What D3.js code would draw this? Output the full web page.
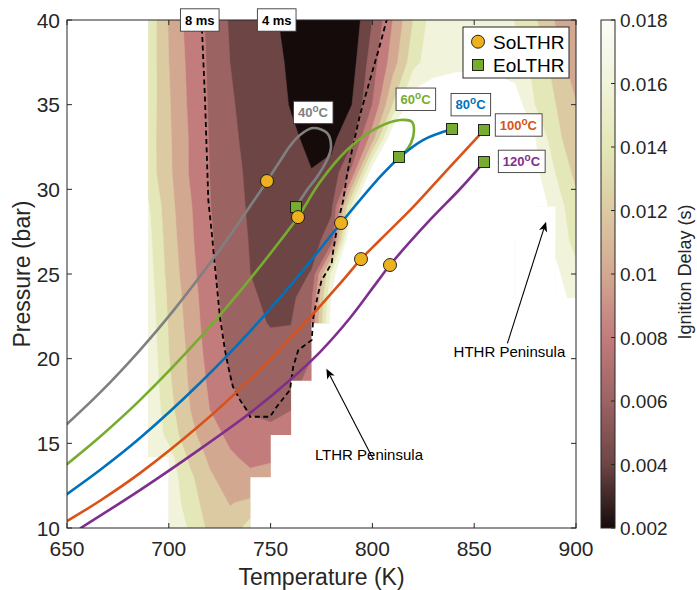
<!DOCTYPE html>
<html>
<head>
<meta charset="utf-8">
<script src="https://cdn.jsdelivr.net/npm/d3@7"></script>
<style>
  body { margin: 0; background: #fff; }
  text { font-family: "Liberation Sans", Arial, Helvetica, sans-serif; }
</style>
</head>
<body>
<svg id="chart" width="697" height="590"></svg>
<script>
// ---- Ignition delay map (ms) on a temperature / pressure grid; null = no data ----
const temperatureK = [650,660,670,680,690,700,710,720,730,740,750,760,770,780,790,800,810,820,830,840,850,860,870,880,890,900];
const pressureBar  = [40,37.5,35,33,31,29,27,25,23.6,22.1,20.4,18.7,17,15.5,14.2,13,11.5,10];
const _ = null;
const delayMs = [
  [_,_,_,_,15.4,11.8,9.2,7.6,5.8,5.1,4.3,3.5,2.9,2.5,2.6,6.0,10.0,14.0,17.0,17.4,17.6,17.3,15.9,14.2,11.8,10.3],
  [_,_,_,_,15.3,12.0,9.5,7.7,6.0,5.3,4.6,3.7,3.1,2.7,3.2,7.0,11.0,15.2,17.4,17.6,17.7,17.6,16.8,15.6,13.0,10.8],
  [_,_,_,_,15.2,12.2,9.7,7.8,6.2,5.4,4.7,3.9,3.2,3.0,4.0,8.0,14.0,19.5,19.0,19.2,19.2,19.0,19.2,15.9,14.0,12.1],
  [_,_,_,_,15.0,12.3,9.9,7.9,6.3,5.6,5.0,4.3,3.6,3.5,5.5,11.0,20,24,25,25,25,24,21,18.0,14.6,12.6],
  [_,_,_,_,15.0,12.4,9.9,8.0,6.5,5.7,5.1,4.6,4.05,4.6,8.5,19.5,25,26,26,26,26,25,22,18.5,15.9,13.4],
  [_,_,_,_,16.2,12.7,10.3,8.1,6.6,5.8,5.3,4.9,4.6,5.6,16.5,26,27,27,27,27,26,24,22,19.5,17.0,14.6],
  [_,_,_,_,16.6,13.0,10.5,8.3,6.8,5.9,5.4,5.05,5.1,7.0,22,27,27,27,27,27,26,25,23,_,17.5,15.2],
  [_,_,_,_,16.9,13.3,10.8,8.5,7.0,6.0,5.5,5.3,6.1,16.5,24,25,25,25,25,25,25,24,23,_,18.4,16.6],
  [_,_,_,_,17.1,13.6,11.1,8.7,7.2,6.2,5.7,5.5,7.5,18.2,24,24,24,24,24,24,24,24,23,_,19.2,17.0],
  [_,_,_,_,17.3,13.8,11.3,8.9,7.4,6.4,5.9,5.95,8.0,19.0,_,_,_,_,_,_,_,_,_,_,_,_],
  [_,_,_,_,17.5,14.0,11.6,9.2,7.7,6.9,6.5,6.6,7.8,_,_,_,_,_,_,_,_,_,_,_,_,_],
  [_,_,_,_,17.7,14.3,11.8,9.6,8.0,7.2,6.9,7.3,8.6,_,_,_,_,_,_,_,_,_,_,_,_,_],
  [_,_,_,_,17.9,14.7,12.1,10.0,8.6,7.8,7.5,7.9,_,_,_,_,_,_,_,_,_,_,_,_,_,_],
  [_,_,_,_,17.9,15.3,12.6,10.9,9.5,8.7,8.5,9.6,_,_,_,_,_,_,_,_,_,_,_,_,_,_],
  [_,_,_,_,17.9,16.8,13.6,11.6,10.3,9.5,9.6,_,_,_,_,_,_,_,_,_,_,_,_,_,_,_],
  [_,_,_,_,_,17.2,14.5,12.3,11.0,10.4,10.9,_,_,_,_,_,_,_,_,_,_,_,_,_,_,_],
  [_,_,_,_,_,17.4,15.0,13.0,11.9,12.3,_,_,_,_,_,_,_,_,_,_,_,_,_,_,_,_],
  [_,_,_,_,_,17.6,15.8,13.5,12.6,15.0,_,_,_,_,_,_,_,_,_,_,_,_,_,_,_,_]
];

// contour levels (ms) and colormap entries at each level
const levelsMs   = [2,4,6,8,10,12,14,16,18];
const cmapColors = ["#150b0b","#6d4545","#9c6363","#c27c7c","#d3a891","#dccaa2","#e4e7b7","#f1f3da","#fcfcf7"];
const cbarLabels = ["0.002","0.004","0.006","0.008","0.01","0.012","0.014","0.016","0.018"];

// compression paths (T in K, P in bar) for each intake temperature
const path40  = [[650,16.14],[666.2,17.99],[685.85,20.51],[702.06,22.81],[721.71,25.88],[734.97,28.13],[742.34,29.43],[748.23,30.49],[754.62,31.67],[759.53,32.56],[764.44,33.21],[770.83,33.62],[777.7,33.33],[779.67,32.5],[777.7,31.73],[772.79,30.73],[767.88,29.96],[762.48,28.95]];
const path60  = [[650,13.77],[666.21,15.39],[685.85,17.55],[715.32,21.24],[739.88,24.7],[754.62,26.95],[763.46,28.36],[774.26,30.43],[787.52,32.32],[800.29,33.5],[813.56,34.09],[819.45,33.98],[820.43,33.5],[818.96,32.73],[815.52,32.14],[813.06,31.91]];
const path80  = [[650,12.0],[666.21,13.42],[685.85,15.31],[715.32,18.56],[739.88,21.61],[764.44,25.0],[784.58,28.01],[803.73,30.73],[813.56,31.91],[824.85,32.91],[839.1,33.56]];
const path100 = [[650,10.41],[666.21,11.61],[685.85,13.24],[715.32,16.08],[739.88,18.78],[764.44,21.8],[785.56,24.64],[794.4,25.88],[803.73,27.01],[819.94,28.95],[836.64,31.14],[854.81,33.5]];
const path120 = [[656.73,10.0],[685.85,12.24],[715.32,14.66],[739.88,16.79],[759.53,18.74],[774.26,20.39],[789.0,22.4],[802.26,24.52],[808.64,25.53],[828.29,28.19],[843.03,30.02],[854.81,31.61]];
const pathLabels = ["40","60","80","100","120"];
const pathColors = ["#808080","#77ac30","#0072bd","#d95319","#7e2f8e"];
// label anchor (T, P) for each path
const pathLabelAt = [[770.8,34.54],[821.2,35.32],[848.2,35.0],[871.7,33.8],[873.2,31.65]];

// start / end of low-temperature heat release on each path
const soLTHR = [[748.23,30.49],[763.46,28.36],[784.58,28.01],[794.4,25.88],[808.64,25.53]];
const eoLTHR = [[762.48,28.95],[813.06,31.91],[839.1,33.56],[854.81,33.5],[854.81,31.61]];

// dashed boundary curve
const dashedBoundary = [[716.1,40],[717.8,35.27],[719.4,29.37],[721.1,27.42],[722.7,25.41],[725.1,22.47],[727.6,20.5],[729.2,19.52],[731.5,18.34],[735,17.55],[738.3,16.96],[739.9,16.57],[749.7,16.57],[753,17.16],[759.5,18.15],[761.1,19.52],[763.6,20.51],[770.2,21.1],[771,22.47],[773.4,23.86],[775.1,24.64],[780,25.63],[780.8,26.41],[783.3,28.19],[785.7,29.37],[787.5,30.84],[790,32.32],[793.9,34.39],[798.8,36.46],[803.7,38.52],[807,40]];
const msLabels = ["8 ms","4 ms"];
const msLabelAt = [[715.2,40],[753,40]];

// annotations: [tail, head] and label position
const lthrArrow = [[800.3,14.09],[777.4,19.41]];
const hthrArrow = [[866.3,20.9],[885.3,28.09]];
const lthrText = [798.3,14.01];
const hthrText = [867.3,20.1];

const xTicks = [650,700,750,800,850,900];
const yTicks = [10,15,20,25,30,35,40];

// ---- layout ----
const X0 = 67, X1 = 576, Y0 = 20, Y1 = 528;
const CB0 = 601, CBW = 14;
const axisColor = "#262626";

const svg = d3.select("#chart");
const x = d3.scaleLinear().domain([650, 900]).range([X0, X1]);
const y = d3.scaleLinear().domain([10, 40]).range([Y1, Y0]);
const defs = svg.append("defs");

// ---- filled contours ----
const nx = temperatureK.length, ny = pressureBar.length;
const flat = [];
delayMs.forEach(row => row.forEach(v => flat.push(v == null ? -1e9 : v)));
const bands = d3.contours().size([nx, ny]).thresholds(levelsMs)(flat);

const colToT = d3.scaleLinear().domain([0.5, nx - 0.5]).range([temperatureK[0], temperatureK[nx - 1]]);
const rowToP = d3.scaleLinear().domain(pressureBar.map((p, j) => j + 0.5)).range(pressureBar);
const gridPath = d3.geoPath(d3.geoTransform({
  point(cx, cy) { this.stream.point(x(colToT(cx)), y(rowToP(cy))); }
}));

// mask of grid cells whose four corners all carry data (sharp edges along the grid)
let maskD = "";
for (let j = 0; j < ny - 1; j++) {
  for (let i = 0; i < nx - 1; i++) {
    const r0 = delayMs[j], r1 = delayMs[j + 1];
    if (r0[i] == null || r0[i + 1] == null || r1[i] == null || r1[i + 1] == null) continue;
    const xa = x(temperatureK[i]), xb = x(temperatureK[i + 1]);
    const ya = y(pressureBar[j]), yb = y(pressureBar[j + 1]);
    maskD += `M${xa - 0.15},${ya - 0.15}H${xb + 0.15}V${yb + 0.15}H${xa - 0.15}Z`;
  }
}
defs.append("mask").attr("id", "dataMask").attr("maskUnits", "userSpaceOnUse")
  .attr("x", 0).attr("y", 0).attr("width", 697).attr("height", 590)
  .append("path").attr("d", maskD).attr("fill", "#fff");
defs.append("clipPath").attr("id", "plotClip")
  .append("rect").attr("x", X0).attr("y", Y0).attr("width", X1 - X0).attr("height", Y1 - Y0);

const fillFor = v => (v >= 18 ? "#ffffff" : cmapColors[levelsMs.indexOf(v)]);
const gOuter = svg.append("g").attr("clip-path", "url(#plotClip)");
const gContour = gOuter.append("g").attr("mask", "url(#dataMask)");
gContour.selectAll("path").data(bands).join("path")
  .attr("d", gridPath)
  .attr("fill", d => fillFor(d.value))
  .attr("stroke", d => fillFor(d.value))
  .attr("stroke-width", 0.6)
  .attr("stroke-linejoin", "round");

// ---- dashed boundary ----
const lineGen = d3.line().x(d => x(d[0])).y(d => y(d[1]));
const plotG = svg.append("g").attr("clip-path", "url(#plotClip)");
plotG.append("path").attr("d", lineGen(dashedBoundary))
  .attr("fill", "none").attr("stroke", "#000").attr("stroke-width", 1.8)
  .attr("stroke-dasharray", "5,3.5");

// ---- compression paths ----
const smooth = d3.line().x(d => x(d[0])).y(d => y(d[1])).curve(d3.curveCatmullRom.alpha(0.5));
[path40, path60, path80, path100, path120].forEach((p, i) => {
  plotG.append("path").attr("d", smooth(p)).attr("fill", "none")
    .attr("stroke", pathColors[i]).attr("stroke-width", 2.6).attr("stroke-linecap", "round");
});

// ---- frame and ticks ----
const frame = svg.append("g");
frame.append("rect").attr("x", X0).attr("y", Y0).attr("width", X1 - X0).attr("height", Y1 - Y0)
  .attr("fill", "none").attr("stroke", axisColor).attr("stroke-width", 1);
xTicks.forEach(t => {
  frame.append("line").attr("x1", x(t)).attr("x2", x(t)).attr("y1", Y1).attr("y2", Y1 - 5).attr("stroke", axisColor);
  frame.append("line").attr("x1", x(t)).attr("x2", x(t)).attr("y1", Y0).attr("y2", Y0 + 5).attr("stroke", axisColor);
  frame.append("text").attr("x", x(t)).attr("y", 556).attr("text-anchor", "middle")
    .attr("font-size", 21).attr("fill", axisColor).text(t);
});
yTicks.forEach(t => {
  frame.append("line").attr("x1", X0).attr("x2", X0 + 5).attr("y1", y(t)).attr("y2", y(t)).attr("stroke", axisColor);
  frame.append("line").attr("x1", X1).attr("x2", X1 - 5).attr("y1", y(t)).attr("y2", y(t)).attr("stroke", axisColor);
  frame.append("text").attr("x", 60).attr("y", y(t) + 7.5).attr("text-anchor", "end")
    .attr("font-size", 21).attr("fill", axisColor).text(t);
});
svg.append("text").attr("x", (X0 + X1) / 2).attr("y", 585).attr("text-anchor", "middle")
  .attr("font-size", 23).attr("fill", axisColor).text("Temperature (K)");
svg.append("text").attr("transform", `translate(30,${(Y0 + Y1) / 2}) rotate(-90)`)
  .attr("text-anchor", "middle").attr("font-size", 23).attr("fill", axisColor).text("Pressure (bar)");

// markers
svg.append("g").selectAll("rect").data(eoLTHR).join("rect")
  .attr("x", d => x(d[0]) - 5.5).attr("y", d => y(d[1]) - 5.5)
  .attr("width", 11).attr("height", 11)
  .attr("fill", "#77ac30").attr("stroke", "#111").attr("stroke-width", 0.9);
svg.append("g").selectAll("circle").data(soLTHR).join("circle")
  .attr("cx", d => x(d[0])).attr("cy", d => y(d[1])).attr("r", 6.5)
  .attr("fill", "#edb120").attr("stroke", "#111").attr("stroke-width", 0.9);

// ---- small boxed labels ----
function boxedLabel(px, py, build, color) {
  const g = svg.append("g");
  const t = g.append("text").attr("x", px).attr("y", py + 4.6).attr("text-anchor", "middle")
    .attr("font-size", 13).attr("font-weight", "bold").attr("fill", color);
  build(t);
  const bb = t.node().getBBox();
  g.insert("rect", "text").attr("x", bb.x - 4.5).attr("y", py - 11.2)
    .attr("width", bb.width + 9).attr("height", 22.4)
    .attr("fill", "#fff").attr("stroke", "#3a3a3a").attr("stroke-width", 0.9);
}
msLabels.forEach((s, i) => boxedLabel(x(msLabelAt[i][0]), y(msLabelAt[i][1]), t => t.text(s), "#000"));
pathLabels.forEach((s, i) => boxedLabel(x(pathLabelAt[i][0]), y(pathLabelAt[i][1]), t => {
  t.append("tspan").text(s);
  t.append("tspan").attr("dy", -5).attr("font-size", 10).text("o");
  t.append("tspan").attr("dy", 5).text("C");
}, pathColors[i]));

// ---- annotations ----
function arrow(tail, head) {
  const x1 = x(tail[0]), y1 = y(tail[1]), x2 = x(head[0]), y2 = y(head[1]);
  const a = Math.atan2(y2 - y1, x2 - x1), c = Math.cos(a), s = Math.sin(a);
  const L = 10, W = 4.2;
  const nxp = x2 - 0.75 * L * c, nyp = y2 - 0.75 * L * s;
  svg.append("line").attr("x1", x1).attr("y1", y1).attr("x2", nxp).attr("y2", nyp)
    .attr("stroke", "#000").attr("stroke-width", 1.1);
  const pts = [[x2, y2], [x2 - L * c - W * s, y2 - L * s + W * c], [nxp, nyp], [x2 - L * c + W * s, y2 - L * s - W * c]];
  svg.append("polygon").attr("points", pts.map(p => p.join(",")).join(" ")).attr("fill", "#000");
}
arrow(lthrArrow[0], lthrArrow[1]);
arrow(hthrArrow[0], hthrArrow[1]);
svg.append("text").attr("x", x(lthrText[0])).attr("y", y(lthrText[1])).attr("text-anchor", "middle")
  .attr("font-size", 15).attr("fill", "#000").text("LTHR Peninsula");
svg.append("text").attr("x", x(hthrText[0])).attr("y", y(hthrText[1])).attr("text-anchor", "middle")
  .attr("font-size", 15).attr("fill", "#000").text("HTHR Peninsula");

// ---- legend ----
const lg = svg.append("g");
lg.append("rect").attr("x", 463).attr("y", 27).attr("width", 106).attr("height", 51)
  .attr("fill", "#fff").attr("stroke", axisColor).attr("stroke-width", 1);
lg.append("circle").attr("cx", 478).attr("cy", 41.7).attr("r", 6.5)
  .attr("fill", "#edb120").attr("stroke", "#111").attr("stroke-width", 0.9);
lg.append("rect").attr("x", 472.5).attr("y", 59.5).attr("width", 11).attr("height", 11)
  .attr("fill", "#77ac30").attr("stroke", "#111").attr("stroke-width", 0.9);
lg.append("text").attr("x", 493).attr("y", 48.5).attr("font-size", 19).attr("fill", "#000").text("SoLTHR");
lg.append("text").attr("x", 493).attr("y", 72).attr("font-size", 19).attr("fill", "#000").text("EoLTHR");

// ---- colorbar ----
const cb = d3.scaleLinear().domain([2, 18]).range([Y1, Y0]);
const grad = defs.append("linearGradient").attr("id", "cmap")
  .attr("x1", 0).attr("y1", 1).attr("x2", 0).attr("y2", 0);
levelsMs.forEach((L, i) => grad.append("stop").attr("offset", (L - 2) / 16).attr("stop-color", cmapColors[i]));
svg.append("rect").attr("x", CB0).attr("y", Y0).attr("width", CBW).attr("height", Y1 - Y0)
  .attr("fill", "url(#cmap)").attr("stroke", axisColor).attr("stroke-width", 1);
levelsMs.forEach((L, i) => {
  svg.append("line").attr("x1", CB0 + CBW).attr("x2", CB0 + CBW - 4).attr("y1", cb(L)).attr("y2", cb(L))
    .attr("stroke", axisColor);
  svg.append("text").attr("x", 620).attr("y", cb(L) + 7).attr("font-size", 19)
    .attr("fill", axisColor).text(cbarLabels[i]);
});
svg.append("text").attr("transform", `translate(691,272) rotate(-90)`)
  .attr("text-anchor", "middle").attr("font-size", 18).attr("fill", axisColor).text("Ignition Delay (s)");
</script>
</body>
</html>
